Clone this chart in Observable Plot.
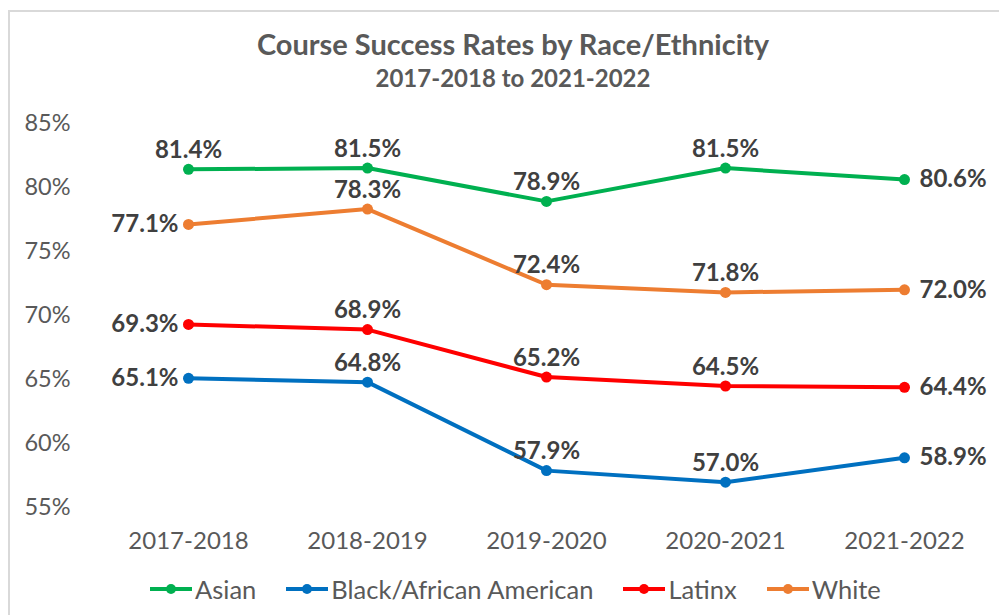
<!DOCTYPE html>
<html>
<head>
<meta charset="utf-8">
<script src="https://cdn.jsdelivr.net/npm/d3@7"></script>
<script src="https://cdn.jsdelivr.net/npm/@observablehq/plot@0.6"></script>
<style>
  html, body { margin: 0; padding: 0; background: #fff; }
  #wrap { position: relative; width: 999px; height: 615px; overflow: hidden; font-family: Lato, "Open Sans", sans-serif; }
  #border { position: absolute; left: 8px; top: 10px; width: 1200px; height: 800px; border: 2px solid #d9d9d9; box-sizing: border-box; }
  #title { position: absolute; left: 0; width: 1026px; top: 26px; text-align: center; font-weight: bold; font-size: 29px; color: #595959; }
  #subtitle { position: absolute; left: 0; width: 1026px; top: 63px; text-align: center; font-weight: bold; font-size: 24px; color: #595959; }
  #chart { position: absolute; left: 0; top: 0; }
  #legend { position: absolute; left: 150px; top: 574px; display: flex; gap: 30px; font-size: 25.5px; color: #595959; }
  .item { display: flex; align-items: center; gap: 3px; }
</style>
</head>
<body>
<div id="wrap">
  <div id="border"></div>
  <div id="chart"></div>
  <div id="title">Course Success Rates by Race/Ethnicity</div>
  <div id="subtitle">2017-2018 to 2021-2022</div>
  <div id="legend"></div>
</div>
<script>
const years = ["2017-2018", "2018-2019", "2019-2020", "2020-2021", "2021-2022"];
const groups = ["Asian", "Black/African American", "Latinx", "White"];
const asian = [81.4, 81.5, 78.9, 81.5, 80.6];
const black = [65.1, 64.8, 57.9, 57.0, 58.9];
const latinx = [69.3, 68.9, 65.2, 64.5, 64.4];
const white = [77.1, 78.3, 72.4, 71.8, 72.0];
const yTicks = [55, 60, 65, 70, 75, 80, 85];
const colors = ["#00B050", "#0070C0", "#FF0000", "#ED7D31"];

const seriesValues = [asian, black, latinx, white];
const data = [];
groups.forEach((g, gi) => {
  seriesValues[gi].forEach((v, i) => {
    data.push({group: g, year: years[i], value: v, idx: i});
  });
});

const labelTop = data.filter(d => d.idx !== 4 && !(d.idx === 0 && d.group !== "Asian"));
const labelLeft = data.filter(d => d.idx === 0 && d.group !== "Asian");
const labelRight = data.filter(d => d.idx === 4);
const fmt = d => d.value.toFixed(1) + "%";

const plot = Plot.plot({
  width: 999,
  height: 615,
  marginLeft: 96,
  marginRight: 4,
  marginTop: 122.7,
  marginBottom: 107.7,
  style: {fontFamily: "Lato, 'Open Sans', sans-serif", background: "transparent"},
  x: {type: "point", domain: years, padding: 0.5},
  y: {domain: [55, 85]},
  color: {domain: groups, range: colors},
  marks: [
    Plot.gridY(yTicks, {stroke: "#d9d9d9", strokeOpacity: 1, strokeWidth: 1.5, x1: 96, x2: 999}),
    Plot.axisY(yTicks, {tickSize: 0, tickPadding: 26, fontSize: 23.5, fill: "#595959", tickFormat: d => d + "%", label: null}),
    Plot.axisX({tickSize: 0, tickPadding: 24, fontSize: 24, fill: "#595959", label: null}),
    Plot.line(data, {x: "year", y: "value", z: "group", stroke: "group", strokeWidth: 4}),
    Plot.dot(data, {x: "year", y: "value", fill: "group", r: 5.5}),
    Plot.text(labelTop, {x: "year", y: "value", text: fmt, dy: -19, fontSize: 24, fontWeight: "bold", fill: "#404040"}),
    Plot.text(labelLeft, {x: "year", y: "value", text: fmt, dx: -10, textAnchor: "end", fontSize: 24, fontWeight: "bold", fill: "#404040"}),
    Plot.text(labelRight, {x: "year", y: "value", text: fmt, dx: 15, textAnchor: "start", fontSize: 24, fontWeight: "bold", fill: "#404040"})
  ]
});
document.getElementById("chart").appendChild(plot);

const legend = document.getElementById("legend");
groups.forEach((g, i) => {
  const item = document.createElement("div");
  item.className = "item";
  item.innerHTML = `<svg width="42" height="12"><line x1="0" y1="6" x2="42" y2="6" stroke="${colors[i]}" stroke-width="4"/><circle cx="21" cy="6" r="5" fill="${colors[i]}"/></svg><span>${g}</span>`;
  legend.appendChild(item);
});
</script>
</body>
</html>
